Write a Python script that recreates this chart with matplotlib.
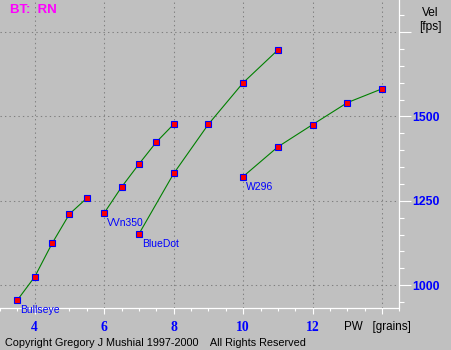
import matplotlib
matplotlib.use('Agg')
import matplotlib.pyplot as plt
from matplotlib.ticker import MultipleLocator, FixedLocator

# powder weight [grains] and velocity [fps] per powder
bull_pw = [3.5, 4.0, 4.5, 5.0, 5.5]
bull_vel = [956, 1025, 1124, 1211, 1258]

wvn_pw = [6.0, 6.5, 7.0, 7.5, 8.0]
wvn_vel = [1214, 1291, 1359, 1424, 1477]

blue_pw = [7, 8, 9, 10, 11]
blue_vel = [1152, 1331, 1477, 1600, 1697]

w296_pw = [10, 11, 12, 13, 14]
w296_vel = [1322, 1410, 1476, 1541, 1582]

series = [
    ('Bullseye', bull_pw, bull_vel),
    ('VVn350', wvn_pw, wvn_vel),
    ('BlueDot', blue_pw, blue_vel),
    ('W296', w296_pw, w296_vel),
]

xtick_vals = [4, 6, 8, 10, 12, 14]
xtick_labels = ['4', '6', '8', '10', '12', '']
ytick_vals = [1000, 1250, 1500, 1750]
ytick_labels = ['1000', '1250', '1500', '']

bg = '#c0c0c0'
W, H = 452, 350
fig = plt.figure(figsize=(W / 100, H / 100), dpi=100, facecolor=bg)
ax = fig.add_axes([0, (H - 307.5) / H, 399.5 / W, 307.5 / H], facecolor=bg)

for name, pw, vel in series:
    ax.plot(pw, vel, color='#008000', lw=0.8, zorder=3)
    ax.plot(pw, vel, ls='none', marker='s', ms=4.6, mfc='#ff0000',
            mec='#0000ff', mew=0.8, zorder=4)
    ax.annotate(name, (pw[0], vel[0]), xytext=(2.0, -7.3),
                textcoords='offset points', ha='left', va='center',
                color='#0000ff', fontsize=7.5, family='Liberation Sans',
                annotation_clip=False, clip_on=False, zorder=5)

ax.set_xlim(3, 14.5)
ax.set_ylim(934, 1845)

# grid
for x in xtick_vals:
    ax.axvline(x, color='#808080', lw=0.75, ls=(0, (1.3, 3)), zorder=1)
for y in ytick_vals:
    ax.axhline(y, color='#808080', lw=0.75, ls=(0, (1.3, 3)), zorder=1)

for s in ['left', 'top']:
    ax.spines[s].set_visible(False)
for s in ['right', 'bottom']:
    ax.spines[s].set_color('white')
    ax.spines[s].set_linewidth(0.9)

ax.yaxis.tick_right()
ax.xaxis.set_major_locator(FixedLocator(xtick_vals))
ax.xaxis.set_minor_locator(MultipleLocator(0.5))
ax.yaxis.set_major_locator(FixedLocator(ytick_vals))
ax.yaxis.set_minor_locator(MultipleLocator(50))
ax.set_xticklabels(xtick_labels)
ax.set_yticklabels(ytick_labels)

ax.tick_params(axis='x', which='major', direction='out', length=4.5, width=0.8,
               color='white', pad=5.5, labelcolor='#0000ff', labelsize=9.8)
ax.tick_params(axis='x', which='minor', direction='out', length=2.3, width=0.8,
               color='white')
ax.tick_params(axis='y', which='major', direction='out', length=8.7, width=0.8,
               color='white', pad=0.3, labelcolor='#0000ff', labelsize=8.8)
ax.tick_params(axis='y', which='minor', direction='out', length=3.6, width=0.8,
               color='white')
for lab in ax.get_xticklabels():
    lab.set_family('Liberation Serif')
    lab.set_fontweight('bold')
for lab in ax.get_yticklabels():
    lab.set_family('Liberation Sans')
    lab.set_fontweight('bold')

# texts
fig.text(10 / W, 1 - 10 / H, 'BT:  RN', color='#ff00ff', fontsize=9.5,
         fontweight='bold', family='Liberation Sans', ha='left', va='center')
fig.text(430.5 / W, 1 - 13.5 / H, 'Vel', color='black', fontsize=8.6,
         family='Liberation Sans', ha='center', va='center')
fig.text(430.5 / W, 1 - 27 / H, '[fps]', color='black', fontsize=8.6,
         family='Liberation Sans', ha='center', va='center')
fig.text(344 / W, 1 - 327 / H, 'PW   [grains]', color='black', fontsize=8.4,
         family='Liberation Sans', ha='left', va='center')
fig.text(5 / W, 1 - 343 / H,
         'Copyright Gregory J Mushial 1997-2000    All Rights Reserved',
         color='black', fontsize=7.8, family='Liberation Sans',
         ha='left', va='center')

fig.savefig('out.png', dpi=100, facecolor=bg)
